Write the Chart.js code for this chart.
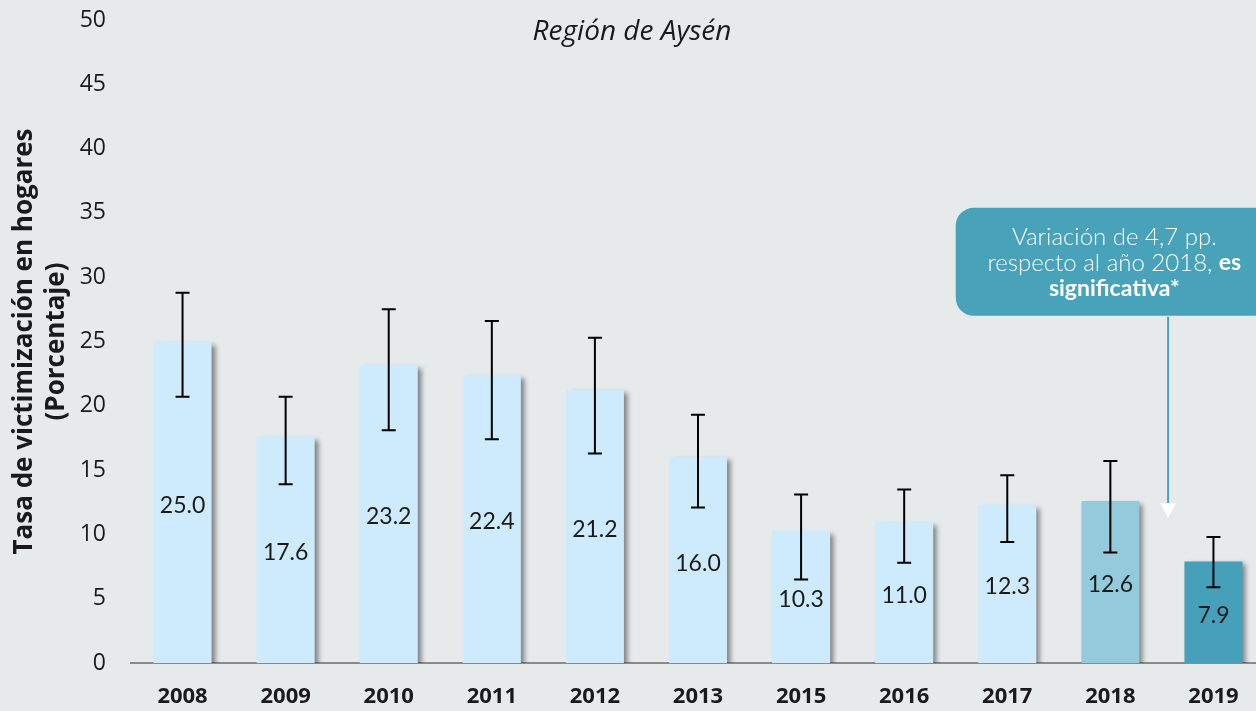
<!DOCTYPE html>
<html lang="es">
<head>
<meta charset="utf-8">
<title>Región de Aysén</title>
<script src="https://cdn.jsdelivr.net/npm/chart.js@4.4.1/dist/chart.umd.min.js"></script>
<style>
  html, body { margin: 0; padding: 0; background: #e7eaeb; overflow: hidden; }
  #wrap { position: relative; width: 1265px; height: 711px; }
</style>
</head>
<body>
<div id="wrap"><canvas id="victimChart"></canvas></div>
<script>
/* ---------- data ---------- */
const years = ["2008", "2009", "2010", "2011", "2012", "2013", "2015", "2016", "2017", "2018", "2019"];
const rates = [25.0, 17.6, 23.2, 22.4, 21.2, 16.0, 10.3, 11.0, 12.3, 12.6, 7.9];
const ciLow = [20.7, 13.9, 18.1, 17.4, 16.3, 12.1, 6.5, 7.8, 9.4, 8.6, 5.9];
const ciHigh = [28.8, 20.7, 27.5, 26.6, 25.3, 19.3, 13.1, 13.5, 14.6, 15.7, 9.8];
const yTicks = [0, 5, 10, 15, 20, 25, 30, 35, 40, 45, 50];

const chartTitle = "Región de Aysén";
const axisTitle = ["Tasa de victimización en hogares", "(Porcentaje)"];
const noteLines = [
  [["Variación de 4,7 pp.", false]],
  [["respecto al año 2018, ", false], ["es", true]],
  [["significativa*", true]]
];

/* ---------- styles ---------- */
const BAR_LIGHT = "#cdebfc";
const BAR_PREV = "#94cbdc";
const BAR_LAST = "#47a0b9";
const NOTE_BG = "#48a2b9";

function barColor(ctx) {
  const year = years[ctx.dataIndex];
  if (year === "2019") return BAR_LAST;
  if (year === "2018") return BAR_PREV;
  return BAR_LIGHT;
}

Chart.defaults.font.family = "'Open Sans', sans-serif";
Chart.defaults.color = "#1a1a1a";

/* shadow to the right of each bar */
const barShadow = {
  id: "barShadow",
  beforeDatasetsDraw(chart) {
    const c = chart.ctx;
    c.save();
    c.shadowColor = "rgba(0,0,0,0.45)";
    c.shadowBlur = 5;
    c.shadowOffsetX = 4;
    c.shadowOffsetY = 3;
  },
  afterDatasetsDraw(chart) {
    chart.ctx.restore();
  }
};

/* error bars + value labels */
const errorAndLabels = {
  id: "errorAndLabels",
  afterDatasetsDraw(chart) {
    const c = chart.ctx;
    const ys = chart.scales.y;
    const meta = chart.getDatasetMeta(0);
    c.save();
    c.strokeStyle = "#000";
    c.lineWidth = 2;
    meta.data.forEach((bar, i) => {
      const x = bar.x;
      const yTop = ys.getPixelForValue(ciHigh[i]);
      const yBot = ys.getPixelForValue(ciLow[i]);
      c.beginPath();
      c.moveTo(x, yTop); c.lineTo(x, yBot);
      c.moveTo(x - 7, yTop); c.lineTo(x + 7, yTop);
      c.moveTo(x - 7, yBot); c.lineTo(x + 7, yBot);
      c.stroke();
    });
    c.fillStyle = "#1a1a1a";
    c.font = "400 23px Lato, sans-serif";
    c.textAlign = "center";
    c.textBaseline = "middle";
    meta.data.forEach((bar, i) => {
      const yMid = ys.getPixelForValue(rates[i] / 2);
      c.fillText(rates[i].toFixed(1), bar.x, yMid + 3);
    });
    c.restore();
  }
};

/* title and callout */
const decorations = {
  id: "decorations",
  afterDraw(chart) {
    const c = chart.ctx;
    const xs = chart.scales.x;
    const ys = chart.scales.y;
    c.save();
    c.fillStyle = "#1a1a1a";
    c.font = "italic 28px 'Open Sans', sans-serif";
    c.textAlign = "center";
    c.textBaseline = "middle";
    c.fillText(chartTitle, xs.getPixelForValue(5) - 66, 32);

    // callout box
    const left = xs.getPixelForValue(7.5);
    const right = chart.width + 8;
    const top = ys.getPixelForValue(35.4);
    const bottom = ys.getPixelForValue(27);
    c.fillStyle = NOTE_BG;
    c.beginPath();
    c.roundRect(left, top, right - left, bottom - top, 18);
    c.fill();

    const cx = (left + right) / 2;
    const lineGap = 26;
    const firstY = (top + bottom) / 2 - lineGap + 1;
    c.fillStyle = "#fff";
    c.textAlign = "left";
    noteLines.forEach((parts, li) => {
      const fonts = parts.map(p => p[1] ? "bold 23px Lato, sans-serif" : "300 24px Lato, sans-serif");
      let total = 0;
      parts.forEach((p, k) => { c.font = fonts[k]; total += c.measureText(p[0]).width; });
      let x = cx - total / 2;
      parts.forEach((p, k) => {
        c.font = fonts[k];
        c.fillText(p[0], x, firstY + li * lineGap);
        x += c.measureText(p[0]).width;
      });
    });

    // arrow
    const ax = xs.getPixelForValue(9.56);
    const lineEnd = ys.getPixelForValue(12.45);
    const tip = ys.getPixelForValue(11.3);
    c.strokeStyle = NOTE_BG;
    c.lineWidth = 2;
    c.beginPath();
    c.moveTo(ax, bottom + 1);
    c.lineTo(ax, lineEnd + 1);
    c.stroke();
    c.beginPath();
    c.moveTo(ax - 8, lineEnd);
    c.lineTo(ax + 8, lineEnd);
    c.lineTo(ax, tip);
    c.closePath();
    c.fill();
    c.restore();
  }
};

new Chart(document.getElementById("victimChart"), {
  type: "bar",
  data: {
    labels: years,
    datasets: [{
      data: rates,
      backgroundColor: barColor,
      borderWidth: 0,
      barPercentage: 0.563,
      categoryPercentage: 1
    }]
  },
  options: {
    responsive: true,
    maintainAspectRatio: false,
    animation: false,
    layout: { padding: { top: 20, left: 0, right: 0, bottom: 0 } },
    plugins: {
      legend: { display: false },
      tooltip: { enabled: false }
    },
    scales: {
      x: {
        grid: { display: false, drawTicks: false },
        border: { display: true, color: "#8a8a8a", width: 2 },
        ticks: { font: { size: 22, weight: "bold" }, color: "#1a1a1a", padding: 21 },
        afterFit(scale) { scale.height = 48; }
      },
      y: {
        min: 0,
        max: 50,
        afterBuildTicks(scale) { scale.ticks = yTicks.map(v => ({ value: v })); },
        grid: { display: false, drawTicks: false },
        border: { display: false },
        ticks: { font: { size: 23 }, color: "#1a1a1a", padding: 25 },
        title: {
          display: true,
          text: axisTitle,
          font: { size: 26, weight: "bold", lineHeight: 1.23 },
          color: "#1a1a1a",
          padding: { top: 9, bottom: 0 }
        },
        afterFit(scale) {
          scale.width = 131;
          scale.paddingTop = 0;
          scale.paddingBottom = 0;
        }
      }
    }
  },
  plugins: [barShadow, errorAndLabels, decorations]
});
</script>
</body>
</html>
